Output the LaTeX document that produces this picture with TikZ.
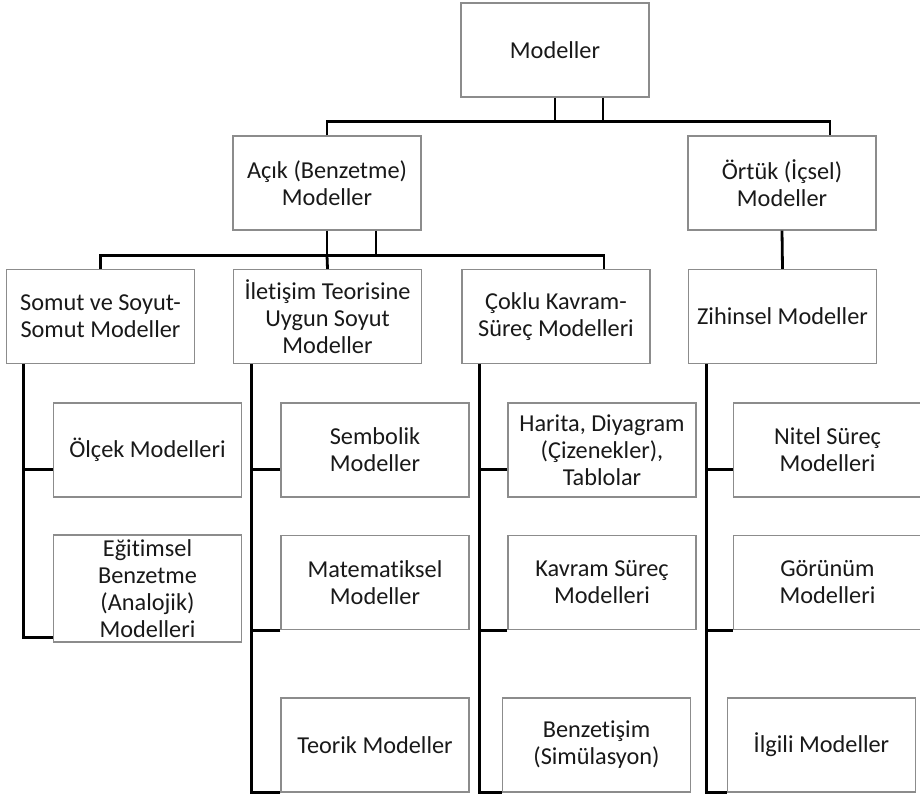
\documentclass[tikz,border=0pt]{standalone}
\usepackage{fontspec}
\setmainfont{Carlito}[Ligatures=NoCommon]
\tikzset{%
  box/.style={draw=black!45,line width=1.3pt,fill=white,text=black!90,
    align=center,inner sep=0pt,minimum width=188pt,minimum height=94pt,
    font=\fontsize{24.3}{27}\selectfont},
  tall/.style={minimum height=107pt},
  link/.style={draw=black,line width=2.8pt}
}

\begin{document}
\begin{tikzpicture}[x=1pt,y=-1pt]
  \useasboundingbox (0,0) rectangle (920,794);

  \node[box] (modeller) at (555,50) {Modeller};
  \node[box] (acik) at (327,183) {Açık (Benzetme)\\Modeller};
  \node[box] (ortuk) at (782,183) {Örtük (İçsel)\\Modeller};

  \node[box] (somut) at (100.5,316.5) {Somut ve Soyut-\\Somut Modeller};
  \node[box] (iletisim) at (327.5,316.5) {İletişim Teorisine\\Uygun Soyut\\Modeller};
  \node[box] (coklu) at (556,316.5) {Çoklu Kavram-\\Süreç Modelleri};
  \node[box] (zihinsel) at (782.5,316.5) {Zihinsel Modeller};

  \node[box] (olcek) at (147.5,450) {Ölçek Modelleri};
  \node[box,tall] (egitimsel) at (147.5,588.5) {Eğitimsel\\Benzetme\\(Analojik)\\Modelleri};

  \node[box] (sembolik) at (375,450) {Sembolik\\Modeller};
  \node[box] (matematik) at (375,582.5) {Matematiksel\\Modeller};
  \node[box] (teorik) at (375,745) {Teorik Modeller};

  \node[box] (harita) at (602,450) {Harita, Diyagram\\(Çizenekler),\\Tablolar};
  \node[box] (kavram) at (602,582.5) {Kavram Süreç\\Modelleri};
  \node[box] (benzetisim) at (596.5,745) {Benzetişim\\(Simülasyon)};

  \node[box] (nitel) at (827.5,450) {Nitel Süreç\\Modelleri};
  \node[box] (gorunum) at (827.5,582.5) {Görünüm\\Modelleri};
  \node[box] (ilgili) at (821.5,745) {İlgili Modeller};

  % upper levels
  \draw[link] (modeller.south) -- ++(0,24) coordinate (bus1);
  \draw[link] ([xshift=48pt]modeller.south) -- ++(0,24);
  \draw[link] (acik.north) |- (bus1) -| ([xshift=48pt]ortuk.north);

  \draw[link] (acik.south) -- ++(0,25) coordinate (bus2);
  \draw[link] ([xshift=49pt]acik.south) -- ++(0,25);
  \draw[link] (somut.north) |- (bus2) -| ([xshift=48pt]coklu.north);
  \draw[link] (bus2) -- (iletisim.north);
  \draw[link] (ortuk.south) -- (zihinsel.north);

  % columns
  \coordinate (s1) at ([xshift=18pt]somut.south west);
  \draw[link] ([yshift=28pt]olcek.south west) -| (s1);
  \draw[link] ([yshift=5pt]egitimsel.south west) -| (s1);

  \foreach \p/\a/\b/\c in {iletisim/sembolik/matematik/teorik,
      coklu/harita/kavram/benzetisim, zihinsel/nitel/gorunum/ilgili} {
    \coordinate (top) at ([xshift=18.5pt]\p.south west);
    \draw[link] ([yshift=28pt]\a.south west) -| (top);
    \draw[link] (\b.south west) -| (top);
    \draw[link] (\c.south west) -| (top);
  }
\end{tikzpicture}
\end{document}
